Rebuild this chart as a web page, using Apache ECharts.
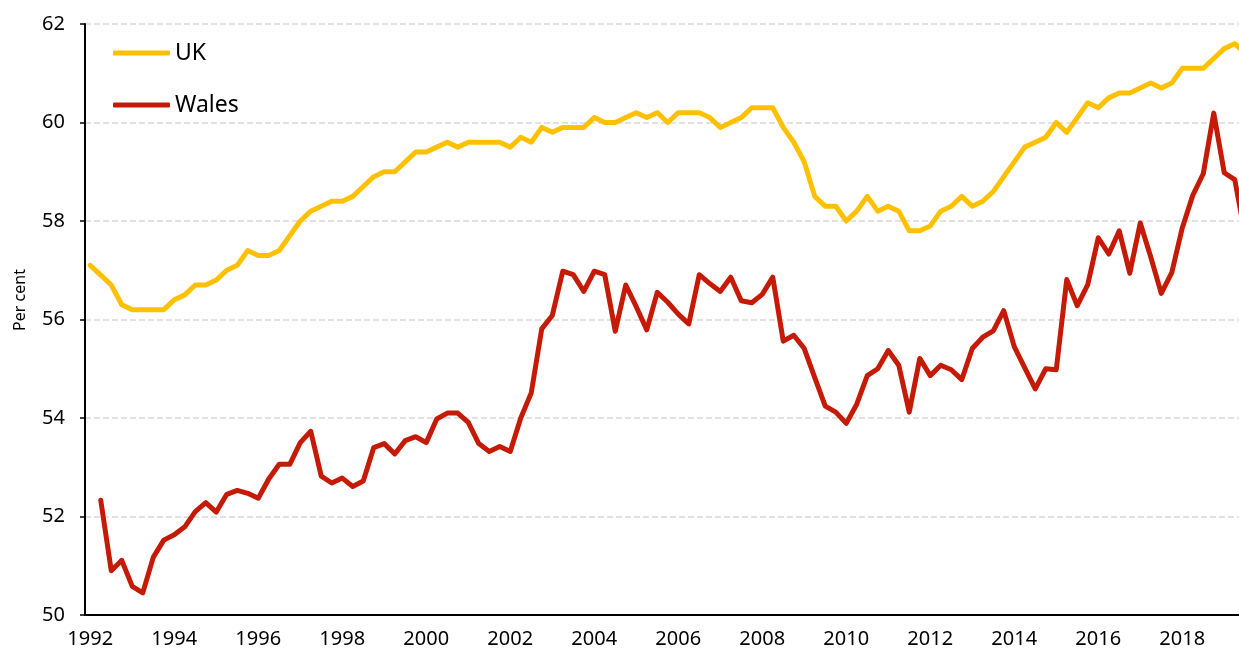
<!DOCTYPE html>
<html>
<head>
<meta charset="utf-8">
<title>Employment rate, UK and Wales</title>
<script src="https://cdn.jsdelivr.net/npm/echarts@6.0.0/dist/echarts.min.js"></script>
<style>
    html, body { margin: 0; padding: 0; background: #fff; }
    #main { width: 1239px; height: 652px; }
</style>
</head>
<body>
<div id="main"></div>
<script>
    // quarterly, 1992 Q1 onwards
    var startYear = 1992;
    var nQuarters = 111;
    var quarters = [];
    for (var i = 0; i < nQuarters; i++) {
        quarters.push((startYear + Math.floor(i / 4)) + ' Q' + (i % 4 + 1));
    }

    var uk = [57.1, 56.9, 56.7, 56.3, 56.2, 56.2, 56.2, 56.2, 56.4, 56.5, 56.7, 56.7, 56.8, 57.0, 57.1, 57.4, 57.3, 57.3, 57.4, 57.7,
        58.0, 58.2, 58.3, 58.4, 58.4, 58.5, 58.7, 58.9, 59.0, 59.0, 59.2, 59.4, 59.4, 59.5, 59.6, 59.5, 59.6,
        59.6, 59.6, 59.6, 59.5, 59.7, 59.6, 59.9, 59.8, 59.9, 59.9, 59.9, 60.1, 60.0, 60.0, 60.1, 60.2, 60.1, 60.2, 60.0,
        60.2, 60.2, 60.2, 60.1, 59.9, 60.0, 60.1, 60.3, 60.3, 60.3, 59.9, 59.6, 59.2, 58.5, 58.3, 58.3, 58.0, 58.2,
        58.5, 58.2, 58.3, 58.2, 57.8, 57.8, 57.9, 58.2, 58.3, 58.5, 58.3, 58.4, 58.6, 58.9, 59.2, 59.5, 59.6, 59.7, 60.0,
        59.8, 60.1, 60.4, 60.3, 60.5, 60.6, 60.6, 60.7, 60.8, 60.7, 60.8, 61.1, 61.1, 61.1, 61.3, 61.5, 61.6, 61.4];

    var wales = ['-', 52.33, 50.90, 51.11, 50.58, 50.45, 51.17, 51.52, 51.63, 51.79, 52.10, 52.28, 52.09, 52.45, 52.53, 52.47,
        52.37, 52.76, 53.06, 53.06, 53.50, 53.73, 52.82, 52.68, 52.78, 52.61, 52.72, 53.40, 53.48, 53.27, 53.54, 53.62,
        53.50, 53.98, 54.10, 54.10, 53.91,
        53.48, 53.32, 53.42, 53.32, 54.00, 54.51, 55.81, 56.08, 56.98, 56.91, 56.57, 56.98, 56.91, 55.76, 56.70, 56.26,
        55.79, 56.55, 56.35, 56.11, 55.91, 56.91, 56.73, 56.57, 56.86, 56.38, 56.34, 56.51, 56.86, 55.56, 55.68, 55.41,
        54.82, 54.24, 54.12, 53.89, 54.28,
        54.86, 55.00, 55.37, 55.07, 54.12, 55.21, 54.86, 55.07, 54.98, 54.78, 55.41, 55.64, 55.77, 56.18, 55.45, 55.02,
        54.59, 55.00, 54.98, 56.81, 56.28, 56.71, 57.66, 57.33, 57.80, 56.94, 57.96, 57.27, 56.53, 56.95, 57.86, 58.52,
        58.96, 60.19, 58.98, 58.84, 57.7];

    var yTicks = [50, 52, 54, 56, 58, 60, 62];

    var font = '"Noto Sans", "DejaVu Sans", sans-serif';
    var myChart = echarts.init(document.getElementById('main'));

    var option = {
        animation: false,
        backgroundColor: '#fff',
        textStyle: { fontFamily: font },
        grid: {
            left: 85,
            right: -11.5,
            top: 24,
            bottom: 37,
            outerBoundsMode: 'none'  // plot runs past the right edge, like the source
        },
        legend: {
            orient: 'vertical',
            left: 108,
            top: 36,
            icon: 'roundRect',
            itemWidth: 57,
            itemHeight: 5,
            itemGap: 28,
            textStyle: { fontSize: 23, lineHeight: 24, color: '#000', fontFamily: font },
            data: ['UK', 'Wales']
        },
        xAxis: {
            type: 'category',
            data: quarters,
            boundaryGap: true,
            axisLine: { lineStyle: { color: '#000', width: 2 } },
            axisTick: { interval: 3, length: 6, lineStyle: { color: '#000', width: 1.5 } },
            axisLabel: {
                interval: 7,
                margin: 14,
                fontSize: 20,
                color: '#000',
                formatter: function (v) { return v.slice(0, 4); }
            },
            splitLine: { show: false }
        },
        yAxis: {
            type: 'value',
            min: yTicks[0],
            max: yTicks[yTicks.length - 1],
            interval: 2,
            axisLine: { show: true, lineStyle: { color: '#000', width: 2 } },
            axisTick: { show: true, length: 5, lineStyle: { color: '#000', width: 1.5 } },
            axisLabel: { margin: 20, fontSize: 20, color: '#000' },
            splitLine: { lineStyle: { color: '#d9d9d9', width: 1.5, type: [6, 3] } }
        },
        graphic: [{
            type: 'text',
            x: 20,
            y: 300,
            rotation: Math.PI / 2,
            style: {
                text: 'Per cent',
                fontSize: 16,
                fontFamily: font,
                fill: '#000',
                textAlign: 'center',
                textVerticalAlign: 'middle'
            }
        }],
        series: [{
            name: 'UK',
            type: 'line',
            data: uk,
            symbol: 'none',
            itemStyle: { color: '#ffc000' },
            lineStyle: { color: '#ffc000', width: 5, cap: 'round', join: 'round' }
        }, {
            name: 'Wales',
            type: 'line',
            data: wales,
            symbol: 'none',
            itemStyle: { color: '#c41a06' },
            lineStyle: { color: '#c41a06', width: 5, cap: 'round', join: 'round' }
        }]
    };

    myChart.setOption(option);
</script>
</body>
</html>
